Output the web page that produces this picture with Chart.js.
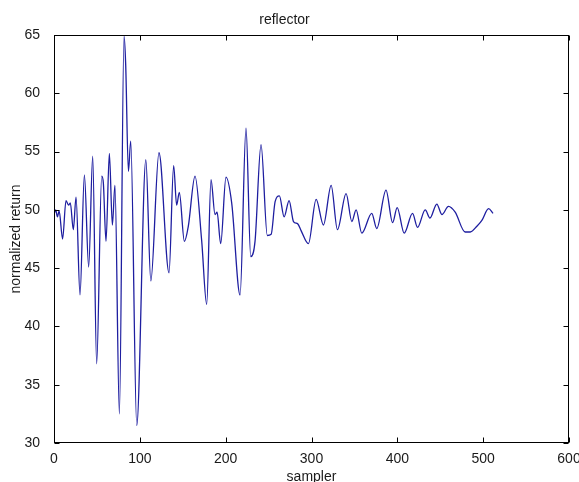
<!DOCTYPE html>
<html>
<head>
<meta charset="utf-8">
<script src="https://cdn.jsdelivr.net/npm/chart.js@4/dist/chart.umd.min.js"></script>
<style>
  body { margin: 0; background: #fff; }
  #wrap { width: 579px; height: 482px; }
</style>
</head>
<body>
<div id="wrap"><canvas id="chart" width="579" height="482"></canvas></div>
<script>
// sample index along the record (at turning points)
const sampleX = [
  0, 2, 4, 6, 10, 14, 17, 19, 22.5, 25.7,
  30.3, 35.4, 40.4, 45.1, 49.7, 55.6, 57.5, 60.6, 64.5, 68,
  71, 76.2, 81.6, 83.5, 86.7, 89.4, 96.4, 107, 112.8, 122.3,
  134, 139.4, 142.9, 146, 151.9, 156.5, 164.3, 172, 177.9, 182.9,
  187.6, 190, 194.2, 200.4, 207, 216.8, 223.7, 229.2, 234.2, 241.2,
  248.5, 253, 257.6, 262.6, 268.1, 273.9, 279, 284, 288, 296.4,
  305.4, 313.9, 322.9, 330.2, 340.3, 347, 352, 358.6, 370.2, 376,
  386.8, 394.5, 399.8, 408, 417.7, 423.5, 432.5, 438, 446, 451.9,
  459.6, 467.4, 479, 485, 492.7, 498.5, 506.3, 511.5
];
// normalized return at those samples
const returnY = [
  49.6, 50.0, 49.4, 49.9, 47.5, 50.8, 50.4, 50.6, 48.3, 51.1,
  42.7, 53.0, 45.1, 54.6, 36.8, 52.9, 52.3, 47.3, 54.85, 48.7,
  52.1, 32.5, 64.9, 62.5, 53.3, 55.9, 31.5, 54.3, 43.9, 54.9,
  44.6, 53.8, 50.4, 51.5, 47.3, 48.6, 52.9, 47.4, 41.9, 52.6,
  49.6, 49.8, 47.1, 52.8, 50.6, 42.7, 57.0, 46.0, 47.3, 55.6,
  47.8, 47.9, 50.7, 51.2, 49.4, 50.8, 49.0, 48.8, 48.2, 47.1,
  50.9, 48.7, 52.1, 48.3, 51.4, 49.0, 50.0, 48.0, 49.7, 48.4,
  51.7, 48.9, 50.2, 48.0, 49.7, 48.5, 50.0, 49.3, 50.5, 49.6,
  50.3, 49.8, 48.1, 48.1, 48.6, 49.1, 50.1, 49.7
];
const xTickValues = [0, 100, 200, 300, 400, 500, 600];
const yTickValues = [30, 35, 40, 45, 50, 55, 60, 65];

Chart.defaults.font.family = "'Liberation Sans', Arial, sans-serif";
Chart.defaults.font.size = 14;
Chart.defaults.color = '#1a1a1a';

// MATLAB style box with ticks pointing inward on all four sides
const boxPlugin = {
  id: 'matlabBox',
  afterDraw(chart) {
    const {ctx, chartArea: a, scales: {x, y}} = chart;
    const L = Math.round(a.left) + 0.5, R = Math.round(a.right) - 0.5;
    const T = Math.round(a.top) + 0.5, B = Math.round(a.bottom) - 0.5;
    ctx.save();
    ctx.strokeStyle = '#000';
    ctx.lineWidth = 1;
    ctx.strokeRect(L, T, R - L, B - T);
    ctx.beginPath();
    x.ticks.forEach(t => {
      const px = Math.round(x.getPixelForValue(t.value)) + 0.5;
      ctx.moveTo(px, B); ctx.lineTo(px, B - 5);
      ctx.moveTo(px, T); ctx.lineTo(px, T + 5);
    });
    y.ticks.forEach(t => {
      const py = Math.round(y.getPixelForValue(t.value)) + 0.5;
      ctx.moveTo(L, py); ctx.lineTo(L + 5, py);
      ctx.moveTo(R, py); ctx.lineTo(R - 5, py);
    });
    ctx.stroke();
    ctx.restore();
  }
};

const config = {
  type: 'line',
  data: {
    datasets: [{
      label: 'reflector',
      data: sampleX.map((x, i) => ({x: x, y: returnY[i]})),
      borderColor: '#1e1ea0',
      borderWidth: 1.3,
      pointRadius: 0,
      fill: false,
      cubicInterpolationMode: 'monotone'
    }]
  },
  options: {
    responsive: false,
    animation: false,
    devicePixelRatio: 1,
    layout: { padding: { left: 0, right: 10, top: 0, bottom: 0 } },
    plugins: {
      legend: { display: false },
      tooltip: { enabled: false },
      title: {
        display: true,
        text: 'reflector',
        color: '#1a1a1a',
        font: { size: 14, weight: 'normal' },
        padding: { top: 11.6, bottom: 6.6 }
      }
    },
    scales: {
      x: {
        type: 'linear',
        min: 0,
        max: 600,
        afterBuildTicks: s => { s.ticks = xTickValues.map(v => ({value: v})); },
        afterFit: s => { s.height = 39; s.paddingLeft = 0; s.paddingRight = 0; },
        grid: { display: false },
        border: { display: false },
        ticks: { padding: 0, maxRotation: 0, autoSkip: false },
        title: {
          display: true,
          text: 'sampler',
          font: { size: 14, lineHeight: 0.72 },
          padding: 0
        }
      },
      y: {
        min: 30,
        max: 65,
        afterBuildTicks: s => { s.ticks = yTickValues.map(v => ({value: v})); },
        afterFit: s => { s.width = 54; s.paddingTop = 0; s.paddingBottom = 0; },
        grid: { display: false },
        border: { display: false },
        ticks: { padding: 6, autoSkip: false },
        title: {
          display: true,
          text: 'normalized return',
          font: { size: 14 },
          padding: { top: 8, bottom: 0 }
        }
      }
    }
  },
  plugins: [boxPlugin]
};

const myChart = new Chart(document.getElementById('chart'), config);
</script>
</body>
</html>
